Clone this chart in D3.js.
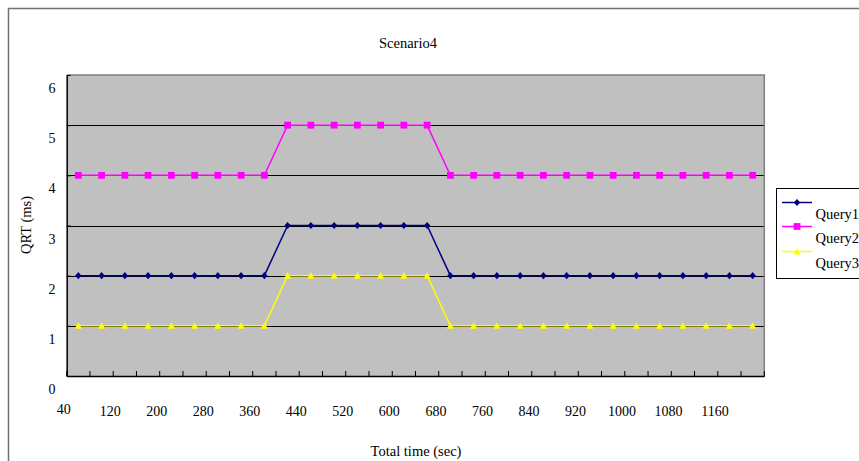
<!DOCTYPE html>
<html>
<head>
<meta charset="utf-8">
<script src="https://cdn.jsdelivr.net/npm/d3@7"></script>
<style>
  html, body { margin: 0; padding: 0; background: #fff; }
  svg { display: block; }
  text { font-family: "Liberation Serif", "Times New Roman", serif; fill: #000; }
</style>
</head>
<body>
<script>
// ---- data ----
const categories = [40,80,120,160,200,240,280,320,360,400,440,480,520,560,600,640,680,720,760,800,840,880,920,960,1000,1040,1080,1120,1160,1200];
const query1 = [2,2,2,2,2,2,2,2,2,3,3,3,3,3,3,3,2,2,2,2,2,2,2,2,2,2,2,2,2,2];
const query2 = [4,4,4,4,4,4,4,4,4,5,5,5,5,5,5,5,4,4,4,4,4,4,4,4,4,4,4,4,4,4];
const query3 = [1,1,1,1,1,1,1,1,1,2,2,2,2,2,2,2,1,1,1,1,1,1,1,1,1,1,1,1,1,1];
const xTickLabels = [40,120,200,280,360,440,520,600,680,760,840,920,1000,1080,1160];
const yTicks = [0,1,2,3,4,5,6];
const seriesNames = ["Query1","Query2","Query3"];
const seriesColors = ["#000080","#FF00FF","#FFFF00"];

const W = 859, H = 461;
const L = 66.7, R = 764.3, T = 75, B = 376;

const svg = d3.select("body").append("svg").attr("width", W).attr("height", H);
svg.append("rect").attr("width", W).attr("height", H).attr("fill", "#fff");

// outer chart border
svg.append("rect").attr("x", 8.5).attr("y", 8.5).attr("width", 900).attr("height", 600)
  .attr("fill", "none").attr("stroke", "#707070").attr("stroke-width", 1.5);

const x = d3.scaleBand().domain(categories).range([L, R]).padding(0);
const y = d3.scaleLinear().domain([0, 6]).range([B, T]);
const cx = d => x(d) + x.bandwidth() / 2;

// plot area
svg.append("rect").attr("x", L).attr("y", T).attr("width", R - L).attr("height", B - T).attr("fill", "#C0C0C0");

// gridlines
svg.append("g").selectAll("line").data(yTicks.filter(v => v > 0 && v < 6)).join("line")
  .attr("x1", L).attr("x2", R).attr("y1", d => Math.round(y(d)) + 0.5).attr("y2", d => Math.round(y(d)) + 0.5)
  .attr("stroke", "#000").attr("stroke-width", 1);

// top and right border (gray)
svg.append("path").attr("d", `M${L},${T}H${R}V${B}`).attr("fill", "none").attr("stroke", "#808080").attr("stroke-width", 1.5);

// axes
const xAxis = d3.axisBottom(x).tickSizeInner(-5).tickSizeOuter(0).tickFormat("");
const gx = svg.append("g").attr("transform", `translate(0,${B})`).call(xAxis);
gx.selectAll(".tick").attr("transform", d => `translate(${x(d)},0)`);
gx.select(".domain").attr("stroke", "#000").attr("stroke-width", 1.5);
gx.selectAll(".tick line").attr("stroke", "#000");
// closing tick at right end
gx.append("line").attr("x1", R).attr("x2", R).attr("y1", 0).attr("y2", -5).attr("stroke", "#000");

const yAxis = d3.axisLeft(y).tickValues(yTicks).tickSizeInner(-4).tickSizeOuter(0).tickFormat("");
const gy = svg.append("g").attr("transform", `translate(${L},0)`).call(yAxis);
gy.select(".domain").attr("stroke", "#000").attr("stroke-width", 1.5);
gy.selectAll(".tick line").attr("stroke", "#000");

// y tick labels (offset like the reference)
svg.append("g").selectAll("text").data(yTicks).join("text")
  .attr("x", 52).attr("y", d => y(d) + 18).attr("text-anchor", "middle")
  .style("font-size", "14px").text(d => d);

// x tick labels
svg.append("g").selectAll("text").data(xTickLabels).join("text")
  .attr("x", d => cx(d) - 14.5).attr("y", (d, i) => i === 0 ? 414 : 416).attr("text-anchor", "middle")
  .style("font-size", "14px").text(d => d);

// titles
svg.append("text").attr("x", 408).attr("y", 48).attr("text-anchor", "middle").style("font-size", "14.5px").text("Scenario4");
svg.append("text").attr("x", 416).attr("y", 456).attr("text-anchor", "middle").style("font-size", "14.5px").text("Total time (sec)");
svg.append("text").attr("transform", "translate(31,225) rotate(-90)").attr("text-anchor", "middle").style("font-size", "14.5px").text("QRT (ms)");

// markers
const markerPaths = [
  "M0,-3.6L3.2,0L0,3.6L-3.2,0Z",
  "M-3.4,-3.4H3.4V3.4H-3.4Z",
  "M0,-3.6L3.6,3H-3.6Z"
];
const allSeries = [query1, query2, query3];
const line = d3.line().x((d, i) => cx(categories[i])).y(d => y(d));

allSeries.forEach((vals, si) => {
  const g = svg.append("g");
  g.append("path").datum(vals).attr("d", line).attr("fill", "none")
    .attr("stroke", seriesColors[si]).attr("stroke-width", 1.5);
  g.selectAll("path.m").data(vals).join("path").attr("class", "m")
    .attr("transform", (d, i) => `translate(${cx(categories[i])},${y(d)})`)
    .attr("d", markerPaths[si]).attr("fill", seriesColors[si]);
});

// legend
const lg = svg.append("g");
lg.append("rect").attr("x", 776.5).attr("y", 188.5).attr("width", 120).attr("height", 90)
  .attr("fill", "#fff").attr("stroke", "#000").attr("stroke-width", 1);
const legY = [202.5, 226.5, 251.5];
const legTextY = [219, 243, 268];
seriesNames.forEach((name, i) => {
  lg.append("line").attr("x1", 782).attr("x2", 812).attr("y1", legY[i]).attr("y2", legY[i])
    .attr("stroke", seriesColors[i]).attr("stroke-width", 1.5);
  lg.append("path").attr("transform", `translate(797,${legY[i]})`).attr("d", markerPaths[i]).attr("fill", seriesColors[i]);
  lg.append("text").attr("x", 815.5).attr("y", legTextY[i]).style("font-size", "14.5px").text(name);
});
</script>
</body>
</html>
